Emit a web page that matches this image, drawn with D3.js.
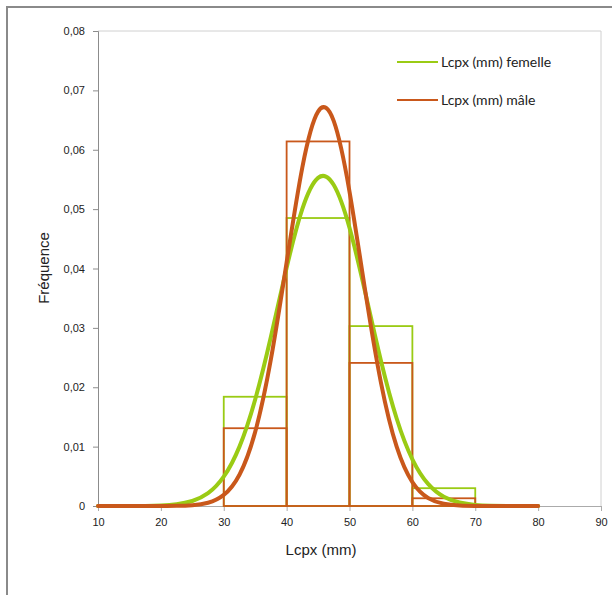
<!DOCTYPE html>
<html>
<head>
<meta charset="utf-8">
<script src="https://cdn.jsdelivr.net/npm/d3@7"></script>
<style>
  html, body { margin: 0; padding: 0; background: #fff; }
  svg { display: block; }
</style>
</head>
<body>
<svg id="chart" width="612" height="595"></svg>
<script>
// Histogram bins (class bounds in mm) and relative frequency per mm
const binEdges = [30, 40, 50, 60, 70];
const femaleHist = [0.0184, 0.0485, 0.0303, 0.0030];
const maleHist   = [0.0131, 0.0614, 0.0241, 0.0013];

// Fitted density curves, sampled every 2.5 mm
const curveX = [10, 12.5, 15, 17.5, 20, 22.5, 25, 27.5, 30, 32.5, 35, 37.5, 40, 42.5, 45,
                47.5, 50, 52.5, 55, 57.5, 60, 62.5, 65, 67.5, 70, 72.5, 75, 77.5, 80];
const femaleCurve = [0, 0, 0, 0.00002, 0.00009, 0.00029, 0.00084, 0.00216, 0.00494, 0.01000,
                     0.01794, 0.02850, 0.04012, 0.05003, 0.05526, 0.05406, 0.04685, 0.03597,
                     0.02447, 0.01474, 0.00786, 0.00372, 0.00156, 0.00058, 0.00019, 0.00006,
                     0.00001, 0, 0];
const maleCurve = [0, 0, 0, 0, 0.000005, 0.00003, 0.00014, 0.00055, 0.00187, 0.00527,
                   0.01248, 0.02472, 0.04103, 0.05705, 0.06643, 0.06481, 0.05296, 0.03625,
                   0.02079, 0.00999, 0.00402, 0.00135, 0.00038, 0.00009, 0.00002, 0,
                   0, 0, 0];

const xTicks = [10, 20, 30, 40, 50, 60, 70, 80, 90];
const yTicks = [0, 0.01, 0.02, 0.03, 0.04, 0.05, 0.06, 0.07, 0.08];

const seriesNames = ["Lcpx (mm) femelle", "Lcpx (mm) mâle"];
const colors = ["#9acb14", "#c9581b"];

const svg = d3.select("#chart");
const plot = { left: 98, right: 601, top: 31, bottom: 506 };

const x = d3.scaleLinear().domain([10, 90]).range([plot.left, plot.right]);
const y = d3.scaleLinear().domain([0, 0.08]).range([plot.bottom, plot.top]);

// Chart outer border
svg.append("rect")
  .attr("x", 7).attr("y", 7).attr("width", 640).attr("height", 640)
  .attr("fill", "none").attr("stroke", "#8a8a8a").attr("stroke-width", 2);

// Plot frame (top and right edges)
svg.append("path")
  .attr("d", `M${plot.left},${plot.top}H${plot.right}V${plot.bottom}`)
  .attr("fill", "none").attr("stroke", "#d0d0d0").attr("stroke-width", 1);

// Y axis
const yAxis = d3.axisLeft(y).tickValues(yTicks).tickSize(5).tickPadding(8)
  .tickFormat(d => d === 0 ? "0" : d3.format(".2f")(d).replace(".", ","));
const gy = svg.append("g").attr("transform", `translate(${plot.left},0)`).call(yAxis);
gy.select(".domain").attr("stroke", "#8c8c8c");
gy.selectAll(".tick line").attr("stroke", "#8c8c8c");
gy.selectAll("text").attr("font-family", "'Liberation Sans', Arial, sans-serif")
  .attr("font-size", 11).attr("fill", "#222");

// X axis
const xAxis = d3.axisBottom(x).tickValues(xTicks).tickSize(5).tickPadding(7)
  .tickFormat(d3.format("d"));
const gx = svg.append("g").attr("transform", `translate(0,${plot.bottom})`).call(xAxis);
gx.select(".domain").attr("stroke", "#ababab");
gx.selectAll(".tick line").attr("stroke", "#ababab");
gx.selectAll("text").attr("font-family", "'Liberation Sans', Arial, sans-serif")
  .attr("font-size", 11).attr("fill", "#222");

// Axis titles
svg.append("text")
  .attr("x", 321).attr("y", 555)
  .attr("text-anchor", "middle")
  .attr("font-family", "'Liberation Sans', Arial, sans-serif")
  .attr("font-size", 15).attr("fill", "#222")
  .text("Lcpx (mm)");

svg.append("text")
  .attr("transform", "translate(49,268) rotate(-90)")
  .attr("text-anchor", "middle")
  .attr("font-family", "'Liberation Sans', Arial, sans-serif")
  .attr("font-size", 15).attr("fill", "#222")
  .text("Fréquence");

// Histogram outlines
function drawHist(values, color) {
  svg.append("g").selectAll("rect")
    .data(values)
    .join("rect")
    .attr("x", (d, i) => x(binEdges[i]))
    .attr("y", d => y(d))
    .attr("width", (d, i) => x(binEdges[i + 1]) - x(binEdges[i]))
    .attr("height", d => y(0) - y(d))
    .attr("fill", "none")
    .attr("stroke", color)
    .attr("stroke-width", 1.8);
}
drawHist(femaleHist, colors[0]);
drawHist(maleHist, colors[1]);

// Density curves
const line = d3.line()
  .x((d, i) => x(curveX[i]))
  .y(d => y(d))
  .curve(d3.curveNatural);

[femaleCurve, maleCurve].forEach((vals, k) => {
  svg.append("path")
    .attr("d", line(vals))
    .attr("fill", "none")
    .attr("stroke", colors[k])
    .attr("stroke-width", 4)
    .attr("stroke-linejoin", "round")
    .attr("stroke-linecap", "round");
});

// Legend
const legend = svg.append("g");
seriesNames.forEach((name, k) => {
  const ly = 62 + k * 38;
  legend.append("line")
    .attr("x1", 397).attr("x2", 438).attr("y1", ly).attr("y2", ly)
    .attr("stroke", colors[k]).attr("stroke-width", 2);
  legend.append("text")
    .attr("x", 441).attr("y", ly).attr("dy", "0.35em")
    .attr("font-family", "Lato, 'Liberation Sans', sans-serif")
    .attr("font-size", 14).attr("fill", "#222")
    .text(name);
});
</script>
</body>
</html>
